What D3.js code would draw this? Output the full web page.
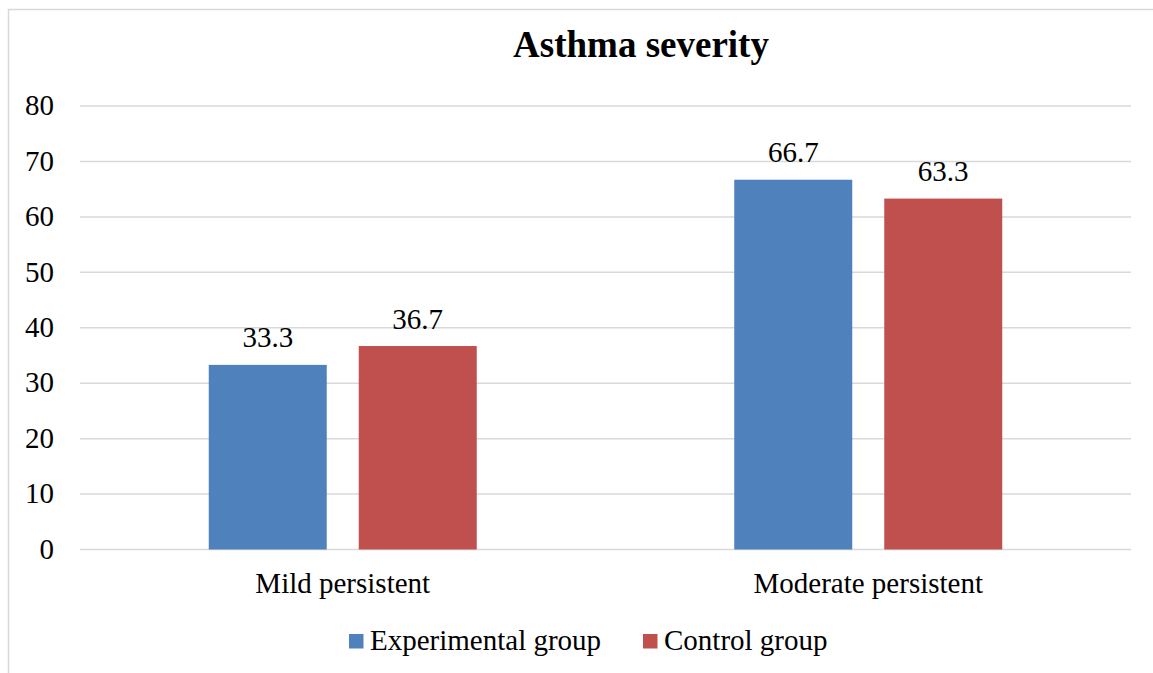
<!DOCTYPE html>
<html>
<head>
<meta charset="utf-8">
<script src="https://cdn.jsdelivr.net/npm/d3@7"></script>
<style>
  body { margin: 0; background: #fff; }
</style>
</head>
<body>
<svg id="chart" width="1153" height="673"></svg>
<script>
// data
const categories = ["Mild persistent", "Moderate persistent"];
const seriesNames = ["Experimental group", "Control group"];
const experimental = [33.3, 66.7];
const control = [36.7, 63.3];
const yTicks = [0, 10, 20, 30, 40, 50, 60, 70, 80];
const colors = ["#4F81BD", "#C0504D"];

const FONT = "Liberation Serif";
const svg = d3.select("#chart")
    .style("font-family", FONT);
const width = 1153, height = 673;
const margin = { left: 80, right: 22, top: 106, bottom: 123.5 };

// chart frame (only top + left visible, the rest is cropped away)
svg.append("rect")
    .attr("x", 8.5).attr("y", 9.5)
    .attr("width", 1200).attr("height", 700)
    .attr("fill", "none")
    .attr("stroke", "#d9d9d9")
    .attr("stroke-width", 1.5);

const y = d3.scaleLinear()
    .domain([0, 80])
    .range([height - margin.bottom, margin.top]);

const x0 = d3.scaleBand()
    .domain(categories)
    .range([margin.left, width - margin.right])
    .paddingInner(0).paddingOuter(0);

// inner band for the two series inside each category
const groupW = 268;
const x1 = d3.scaleBand()
    .domain(seriesNames)
    .range([0, groupW])
    .paddingInner(0.2133);

// gridlines
svg.append("g")
    .selectAll("line")
    .data(yTicks)
    .join("line")
    .attr("x1", margin.left)
    .attr("x2", width - margin.right)
    .attr("y1", d => y(d))
    .attr("y2", d => y(d))
    .attr("stroke", "#d9d9d9")
    .attr("stroke-width", 1.5);

// y tick labels
svg.append("g")
    .selectAll("text")
    .data(yTicks)
    .join("text")
    .attr("x", 54)
    .attr("y", d => y(d))
    .attr("dy", "0.32em")
    .attr("text-anchor", "end")
    .style("font-family", FONT)
    .style("font-size", "29px")
    .text(d => d);

// bars
const rows = categories.map((c, i) => ({
    cat: c,
    vals: [
        { s: seriesNames[0], v: experimental[i], c: colors[0] },
        { s: seriesNames[1], v: control[i], c: colors[1] }
    ]
}));

const groups = svg.append("g")
    .selectAll("g")
    .data(rows)
    .join("g")
    .attr("transform", d => `translate(${x0(d.cat) + x0.bandwidth() / 2 - groupW / 2},0)`);

groups.selectAll("rect")
    .data(d => d.vals)
    .join("rect")
    .attr("x", d => x1(d.s))
    .attr("width", x1.bandwidth())
    .attr("y", d => y(d.v))
    .attr("height", d => y(0) - y(d.v))
    .attr("fill", d => d.c);

// value labels
groups.selectAll("text")
    .data(d => d.vals)
    .join("text")
    .attr("x", d => x1(d.s) + x1.bandwidth() / 2)
    .attr("y", d => y(d.v) - 17.5)
    .attr("text-anchor", "middle")
    .style("font-family", FONT)
    .style("font-size", "29px")
    .text(d => d.v.toFixed(1));

// category labels
svg.append("g")
    .selectAll("text")
    .data(categories)
    .join("text")
    .attr("x", d => x0(d) + x0.bandwidth() / 2)
    .attr("y", 593)
    .attr("text-anchor", "middle")
    .style("font-family", FONT)
    .style("font-size", "29px")
    .text(d => d);

// title
svg.append("text")
    .attr("x", 641)
    .attr("y", 57)
    .attr("text-anchor", "middle")
    .style("font-family", FONT)
    .style("font-size", "37px")
    .style("font-weight", "bold")
    .text("Asthma severity");

// legend
const legendX = [349, 643];
const legend = svg.append("g")
    .selectAll("g")
    .data(seriesNames)
    .join("g")
    .attr("transform", (d, i) => `translate(${legendX[i]},634)`);

legend.append("rect")
    .attr("width", 14.5).attr("height", 14.5)
    .attr("fill", (d, i) => colors[i]);

legend.append("text")
    .attr("x", 21)
    .attr("y", 16)
    .style("font-family", FONT)
    .style("font-size", "29px")
    .text(d => d);
</script>
</body>
</html>
